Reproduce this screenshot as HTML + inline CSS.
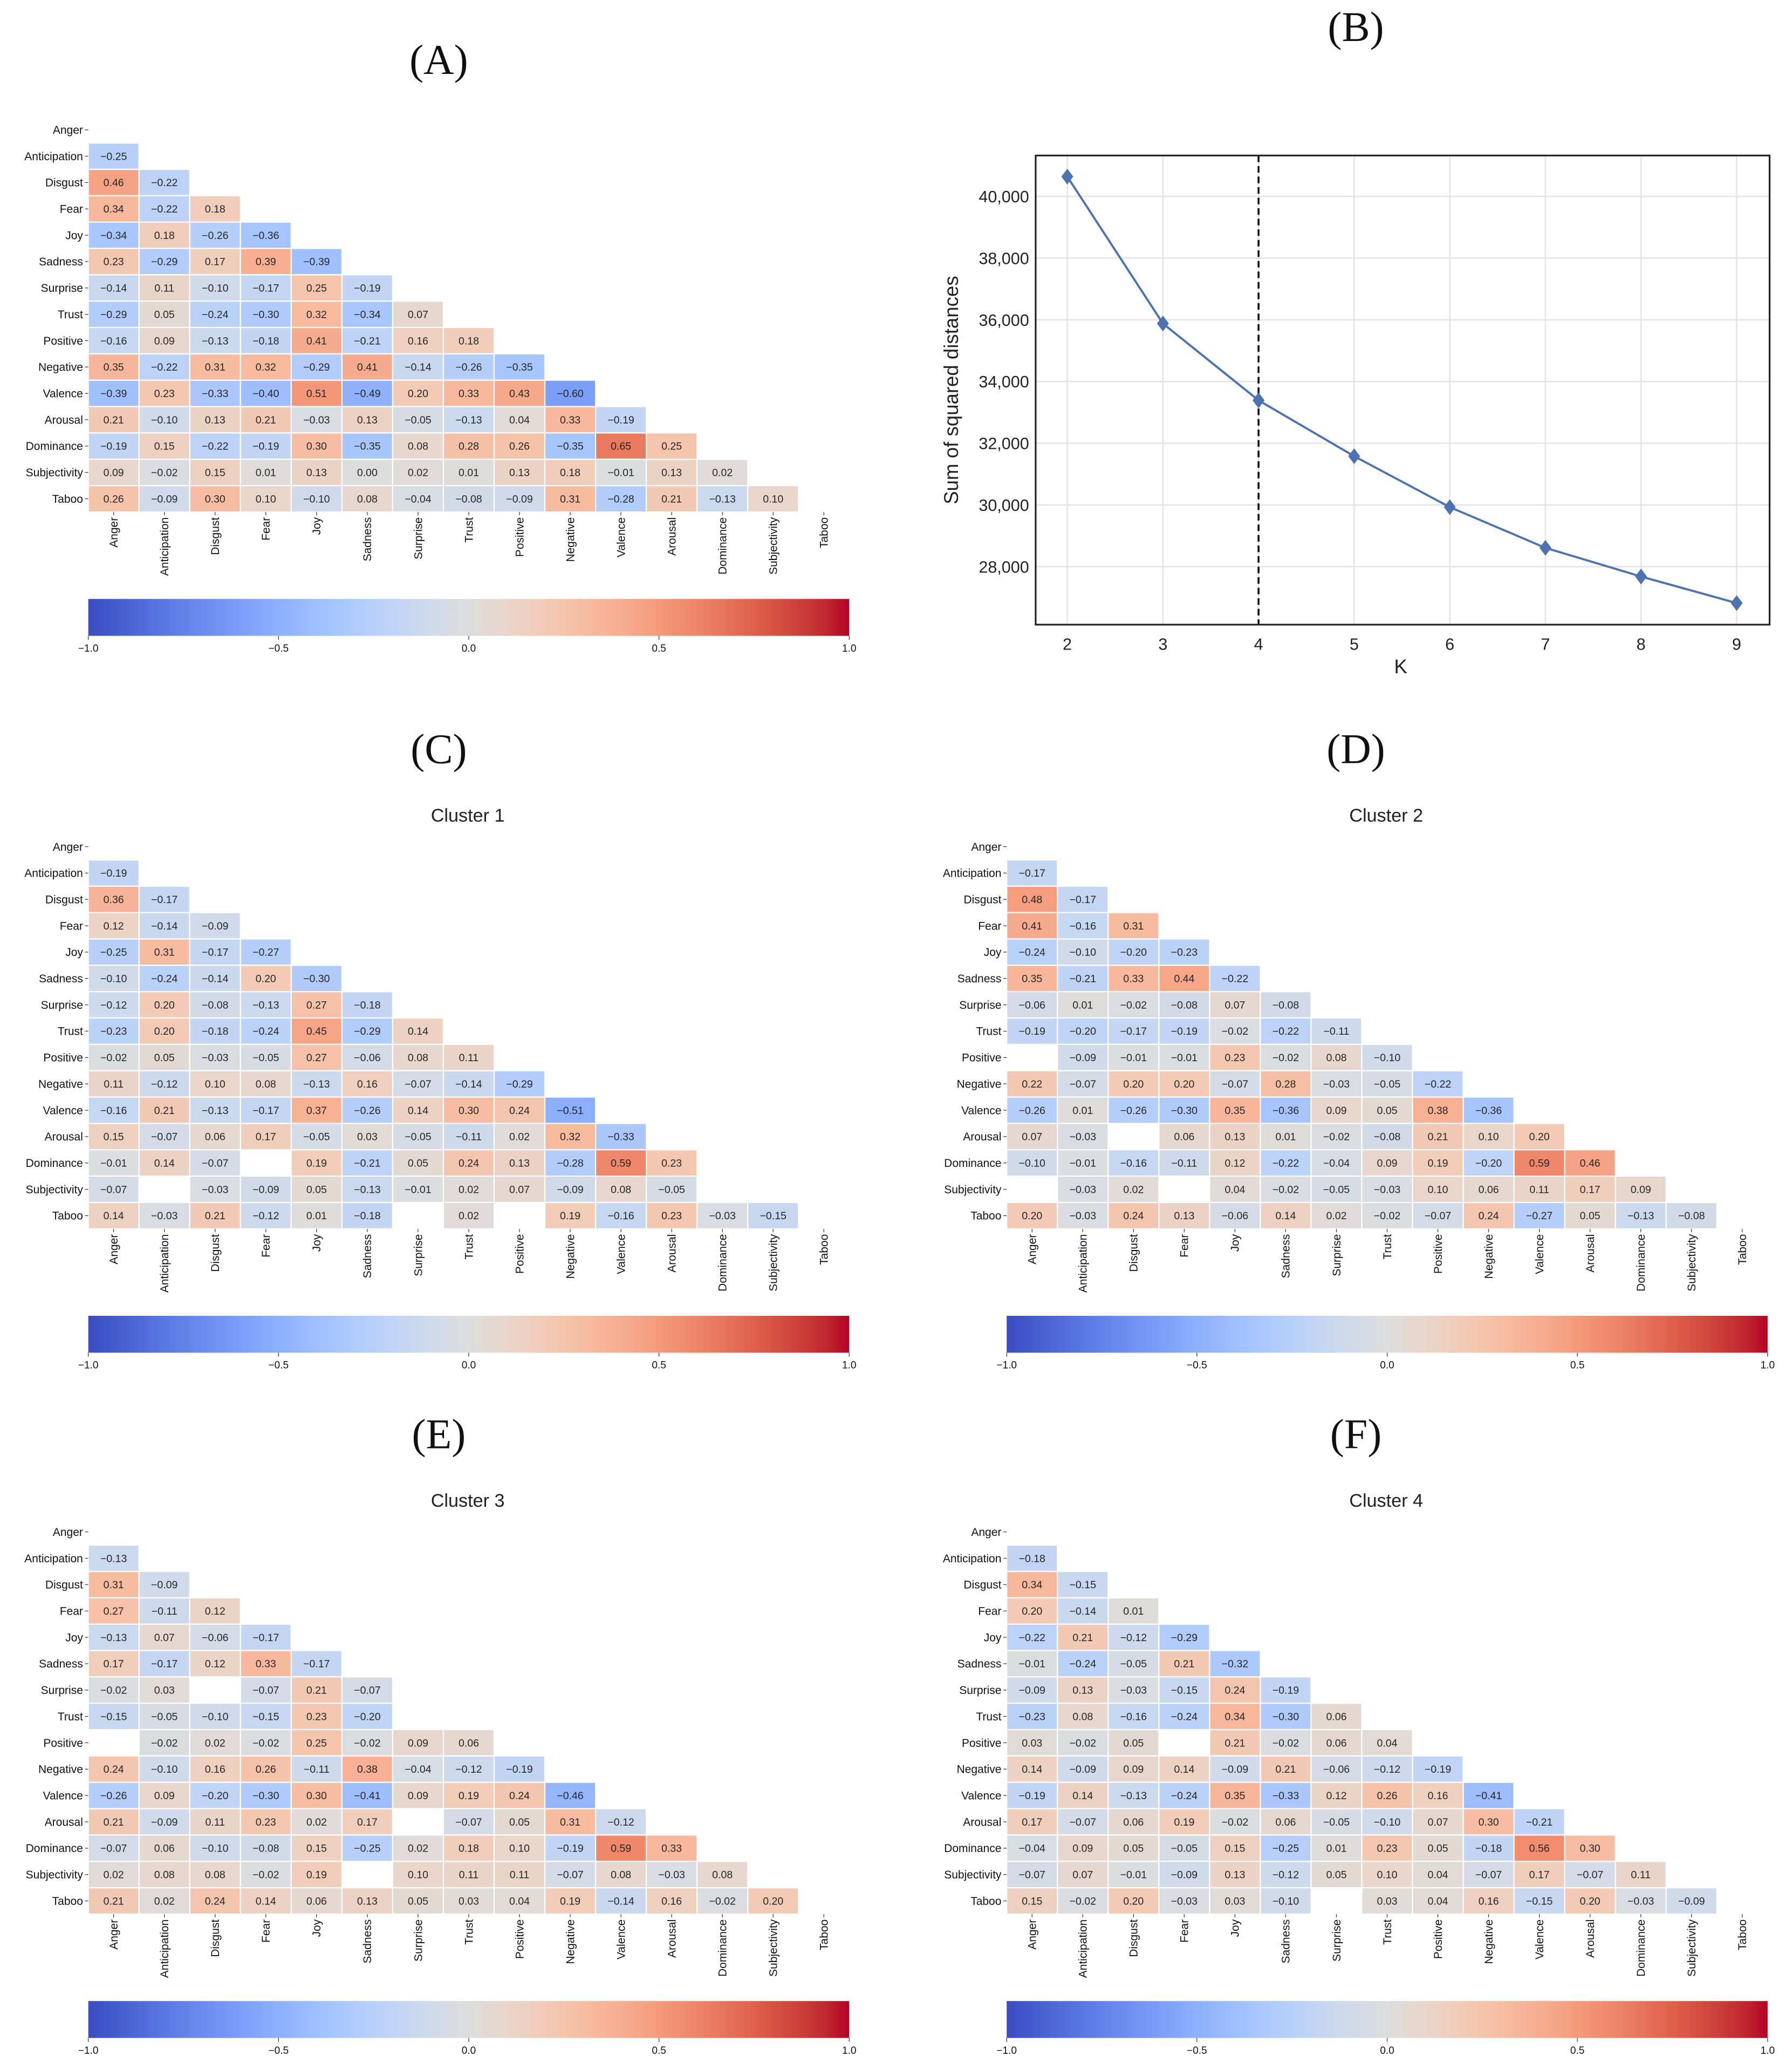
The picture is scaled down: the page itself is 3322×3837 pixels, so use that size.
<!DOCTYPE html>
<html><head><meta charset="utf-8">
<style>
html,body{margin:0;padding:0;background:#fff;}
svg{display:block;}
text{font-family:"Liberation Sans",Arial,sans-serif;}
</style></head>
<body>
<svg id="fig" xmlns="http://www.w3.org/2000/svg" width="3322" height="3837" viewBox="0 0 1360 1570.8">
<defs>
<linearGradient id="cw" x1="0" x2="1" y1="0" y2="0"></linearGradient>
</defs>
<rect x="0" y="0" width="1360" height="1571" fill="#fff"/>
</svg>
<script>
const variables = ["Anger","Anticipation","Disgust","Fear","Joy","Sadness","Surprise","Trust","Positive","Negative","Valence","Arousal","Dominance","Subjectivity","Taboo"];
const corrAll = [
[-0.25],
[0.46,-0.22],
[0.34,-0.22,0.18],
[-0.34,0.18,-0.26,-0.36],
[0.23,-0.29,0.17,0.39,-0.39],
[-0.14,0.11,-0.10,-0.17,0.25,-0.19],
[-0.29,0.05,-0.24,-0.30,0.32,-0.34,0.07],
[-0.16,0.09,-0.13,-0.18,0.41,-0.21,0.16,0.18],
[0.35,-0.22,0.31,0.32,-0.29,0.41,-0.14,-0.26,-0.35],
[-0.39,0.23,-0.33,-0.40,0.51,-0.49,0.20,0.33,0.43,-0.60],
[0.21,-0.10,0.13,0.21,-0.03,0.13,-0.05,-0.13,0.04,0.33,-0.19],
[-0.19,0.15,-0.22,-0.19,0.30,-0.35,0.08,0.28,0.26,-0.35,0.65,0.25],
[0.09,-0.02,0.15,0.01,0.13,0.00,0.02,0.01,0.13,0.18,-0.01,0.13,0.02],
[0.26,-0.09,0.30,0.10,-0.10,0.08,-0.04,-0.08,-0.09,0.31,-0.28,0.21,-0.13,0.10]
];
const corrCluster1 = [
[-0.19],
[0.36,-0.17],
[0.12,-0.14,-0.09],
[-0.25,0.31,-0.17,-0.27],
[-0.10,-0.24,-0.14,0.20,-0.30],
[-0.12,0.20,-0.08,-0.13,0.27,-0.18],
[-0.23,0.20,-0.18,-0.24,0.45,-0.29,0.14],
[-0.02,0.05,-0.03,-0.05,0.27,-0.06,0.08,0.11],
[0.11,-0.12,0.10,0.08,-0.13,0.16,-0.07,-0.14,-0.29],
[-0.16,0.21,-0.13,-0.17,0.37,-0.26,0.14,0.30,0.24,-0.51],
[0.15,-0.07,0.06,0.17,-0.05,0.03,-0.05,-0.11,0.02,0.32,-0.33],
[-0.01,0.14,-0.07,null,0.19,-0.21,0.05,0.24,0.13,-0.28,0.59,0.23],
[-0.07,null,-0.03,-0.09,0.05,-0.13,-0.01,0.02,0.07,-0.09,0.08,-0.05,null],
[0.14,-0.03,0.21,-0.12,0.01,-0.18,null,0.02,null,0.19,-0.16,0.23,-0.03,-0.15]
];
const corrCluster2 = [
[-0.17],
[0.48,-0.17],
[0.41,-0.16,0.31],
[-0.24,-0.10,-0.20,-0.23],
[0.35,-0.21,0.33,0.44,-0.22],
[-0.06,0.01,-0.02,-0.08,0.07,-0.08],
[-0.19,-0.20,-0.17,-0.19,-0.02,-0.22,-0.11],
[null,-0.09,-0.01,-0.01,0.23,-0.02,0.08,-0.10],
[0.22,-0.07,0.20,0.20,-0.07,0.28,-0.03,-0.05,-0.22],
[-0.26,0.01,-0.26,-0.30,0.35,-0.36,0.09,0.05,0.38,-0.36],
[0.07,-0.03,null,0.06,0.13,0.01,-0.02,-0.08,0.21,0.10,0.20],
[-0.10,-0.01,-0.16,-0.11,0.12,-0.22,-0.04,0.09,0.19,-0.20,0.59,0.46],
[null,-0.03,0.02,null,0.04,-0.02,-0.05,-0.03,0.10,0.06,0.11,0.17,0.09],
[0.20,-0.03,0.24,0.13,-0.06,0.14,0.02,-0.02,-0.07,0.24,-0.27,0.05,-0.13,-0.08]
];
const corrCluster3 = [
[-0.13],
[0.31,-0.09],
[0.27,-0.11,0.12],
[-0.13,0.07,-0.06,-0.17],
[0.17,-0.17,0.12,0.33,-0.17],
[-0.02,0.03,null,-0.07,0.21,-0.07],
[-0.15,-0.05,-0.10,-0.15,0.23,-0.20,null],
[null,-0.02,0.02,-0.02,0.25,-0.02,0.09,0.06],
[0.24,-0.10,0.16,0.26,-0.11,0.38,-0.04,-0.12,-0.19],
[-0.26,0.09,-0.20,-0.30,0.30,-0.41,0.09,0.19,0.24,-0.46],
[0.21,-0.09,0.11,0.23,0.02,0.17,null,-0.07,0.05,0.31,-0.12],
[-0.07,0.06,-0.10,-0.08,0.15,-0.25,0.02,0.18,0.10,-0.19,0.59,0.33],
[0.02,0.08,0.08,-0.02,0.19,null,0.10,0.11,0.11,-0.07,0.08,-0.03,0.08],
[0.21,0.02,0.24,0.14,0.06,0.13,0.05,0.03,0.04,0.19,-0.14,0.16,-0.02,0.20]
];
const corrCluster4 = [
[-0.18],
[0.34,-0.15],
[0.20,-0.14,0.01],
[-0.22,0.21,-0.12,-0.29],
[-0.01,-0.24,-0.05,0.21,-0.32],
[-0.09,0.13,-0.03,-0.15,0.24,-0.19],
[-0.23,0.08,-0.16,-0.24,0.34,-0.30,0.06],
[0.03,-0.02,0.05,null,0.21,-0.02,0.06,0.04],
[0.14,-0.09,0.09,0.14,-0.09,0.21,-0.06,-0.12,-0.19],
[-0.19,0.14,-0.13,-0.24,0.35,-0.33,0.12,0.26,0.16,-0.41],
[0.17,-0.07,0.06,0.19,-0.02,0.06,-0.05,-0.10,0.07,0.30,-0.21],
[-0.04,0.09,0.05,-0.05,0.15,-0.25,0.01,0.23,0.05,-0.18,0.56,0.30],
[-0.07,0.07,-0.01,-0.09,0.13,-0.12,0.05,0.10,0.04,-0.07,0.17,-0.07,0.11],
[0.15,-0.02,0.20,-0.03,0.03,-0.10,null,0.03,0.04,0.16,-0.15,0.20,-0.03,-0.09]
];
const colorbarTicks = [-1.0,-0.5,0.0,0.5,1.0];
const elbowK = [2,3,4,5,6,7,8,9];
const elbowSSD = [40640,35880,33390,31580,29930,28610,27680,26820];
const elbowYTicks = [28000,30000,32000,34000,36000,38000,40000];
const elbowChosenK = 4;

const NS="http://www.w3.org/2000/svg";
const svg=document.getElementById('fig');
function mk(tag,attrs,parent){const e=document.createElementNS(NS,tag);for(const k in attrs)e.setAttribute(k,attrs[k]);(parent||svg).appendChild(e);return e;}

const CW=[[59,76,192],[68,90,204],[77,104,215],[87,117,225],[98,130,234],[108,142,241],[119,154,247],[130,165,251],[141,176,254],[152,185,255],[163,194,255],[174,201,253],[184,208,249],[194,213,244],[204,217,238],[213,219,230],[221,221,221],[229,216,209],[236,211,197],[241,204,184],[245,196,172],[247,187,160],[247,177,148],[247,166,137],[244,154,123],[241,141,112],[236,127,99],[229,112,89],[222,96,77],[213,80,66],[203,62,56],[192,40,47],[180,4,38]];
function cmap(v){let t=(v+1)/2*32;t=Math.max(0,Math.min(32,t));const i=Math.min(31,Math.floor(t)),f=t-i;const a=CW[i],b=CW[i+1];return 'rgb('+a.map((c,k)=>Math.round(c+(b[k]-c)*f)).join(',')+')';}
const grad=document.getElementById('cw');
CW.forEach((c,i)=>{mk('stop',{offset:(i/32*100)+'%','stop-color':'rgb('+c.join(',')+')'},grad);});

function fmt(v){const s=Math.abs(v).toFixed(2);return (v<0?'\u22120':'0')+s.slice(1);}

function heatmap(data,ox,oy,name,title){
  const g=mk('g',{});
  
  
  const cw=38.5,ch=20,x0=ox,y0=oy;
  const xs=i=>x0+i*cw, ys=j=>y0+j*ch;
  if(title){const t=mk('text',{x:x0+288,y:oy-9,'font-size':14,'text-anchor':'middle',fill:'#222'},g);t.textContent=title;
    }
  data.forEach((row,r)=>{row.forEach((v,c)=>{if(v===null)return;
    const rc=mk('rect',{x:xs(c),y:ys(r+1),width:cw,height:ch,fill:cmap(v),stroke:'#fff','stroke-width':0.9},g);
    
    
    const t=mk('text',{x:xs(c)+cw/2,y:ys(r+1)+ch/2+2.8,'font-size':8,'text-anchor':'middle',fill:'#262626'},g);t.textContent=fmt(v);
  });});
  variables.forEach((n,i)=>{
    const t=mk('text',{x:x0-4,y:ys(i)+ch/2+3,'font-size':8.6,'text-anchor':'end',fill:'#111'},g);t.textContent=n;
    
    mk('line',{x1:x0-2.5,x2:x0,y1:ys(i)+ch/2,y2:ys(i)+ch/2,stroke:'#333','stroke-width':0.5},g);
    const cx=xs(i)+cw/2,by=y0+15*ch;
    mk('line',{x1:cx,x2:cx,y1:by,y2:by+2.5,stroke:'#333','stroke-width':0.5},g);
    const tx=mk('text',{x:0,y:0,'font-size':8.6,'text-anchor':'end',fill:'#111',transform:'translate('+(cx+3)+','+(by+4)+') rotate(-90)'},g);tx.textContent=n;
    
  });
  const cby=y0+366,cbw=577.5;
  const cb=mk('rect',{x:x0,y:cby,width:cbw,height:28,fill:'url(#cw)'},g);
  
  colorbarTicks.forEach(tv=>{const tx=x0+(tv+1)/2*cbw;
    mk('line',{x1:tx,x2:tx,y1:cby+28,y2:cby+31,stroke:'#333','stroke-width':0.5},g);
    const t=mk('text',{x:tx,y:cby+40,'font-size':7.8,'text-anchor':'middle',fill:'#111'},g);t.textContent=tv.toFixed(1).replace('-','\u2212');
    
  });
}
function panelLabel(txt,x,y){const t=mk('text',{x:x,y:y,'font-size':32,'text-anchor':'middle',fill:'#111','font-family':'"Liberation Serif",serif'});t.textContent=txt;
  t.style.fontFamily='"Liberation Serif",serif';}

panelLabel('(A)',333,56);panelLabel('(B)',1029,31);
panelLabel('(C)',333,579);panelLabel('(D)',1029,579);
panelLabel('(E)',333,1099);panelLabel('(F)',1029,1099);
heatmap(corrAll,67,88.5,'heatmap-all',null);
heatmap(corrCluster1,67,632.5,'heatmap-cluster-1','Cluster 1');
heatmap(corrCluster2,764,632.5,'heatmap-cluster-2','Cluster 2');
heatmap(corrCluster3,67,1152.5,'heatmap-cluster-3','Cluster 3');
heatmap(corrCluster4,764,1152.5,'heatmap-cluster-4','Cluster 4');

// Elbow chart
(function(){
  const g=mk('g',{});
  
  
  const L=786,R=1343,T=118,B=474;
  const xK=k=>810+(k-2)*(1318-810)/7;
  const yV=v=>149+(40000-v)*(430-149)/12000;
  elbowYTicks.forEach(v=>{mk('line',{x1:L,x2:R,y1:yV(v),y2:yV(v),stroke:'#e3e3e3','stroke-width':1},g);
    const t=mk('text',{x:L-5,y:yV(v)+4.5,'font-size':12.5,'text-anchor':'end',fill:'#222'},g);t.textContent=v.toLocaleString('en-US');
    });
  elbowK.forEach(k=>{mk('line',{x1:xK(k),x2:xK(k),y1:T,y2:B,stroke:'#e3e3e3','stroke-width':1},g);
    const t=mk('text',{x:xK(k),y:B+19,'font-size':12.5,'text-anchor':'middle',fill:'#222'},g);t.textContent=k;
    });
  const dl=mk('line',{x1:xK(elbowChosenK),x2:xK(elbowChosenK),y1:T,y2:B,stroke:'#000','stroke-width':1.4,'stroke-dasharray':'5,3'},g);
  
  const pts=elbowK.map((k,i)=>xK(k)+','+yV(elbowSSD[i])).join(' ');
  const pl=mk('polyline',{points:pts,fill:'none',stroke:'#4c72b0','stroke-width':1.6},g);
  
  elbowK.forEach((k,i)=>{const x=xK(k),y=yV(elbowSSD[i]);
    const m=mk('path',{d:'M'+x+','+(y-6)+' L'+(x+4.5)+','+y+' L'+x+','+(y+6)+' L'+(x-4.5)+','+y+'Z',fill:'#4c72b0'},g);
    });
  mk('rect',{x:L,y:T,width:R-L,height:B-T,fill:'none',stroke:'#222','stroke-width':1.3},g);
  const yl=mk('text',{x:0,y:0,'font-size':15,'text-anchor':'middle',fill:'#222',transform:'translate(727,296) rotate(-90)'},g);yl.textContent='Sum of squared distances';
  
  const xl=mk('text',{x:1063,y:511,'font-size':15,'text-anchor':'middle',fill:'#222'},g);xl.textContent='K';
  
})();
</script>
</body></html>
